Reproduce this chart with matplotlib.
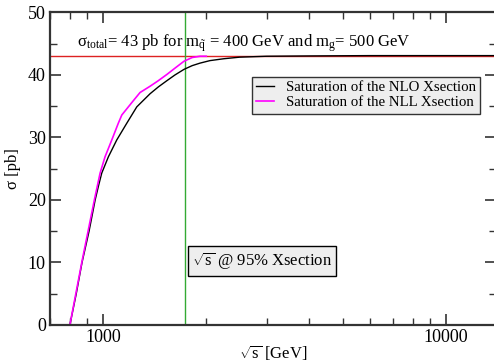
import matplotlib
matplotlib.use("Agg")
import matplotlib.pyplot as plt
from matplotlib.ticker import LogLocator, NullFormatter, MultipleLocator

plt.rcParams['font.family'] = ['Liberation Serif', 'DejaVu Serif']
plt.rcParams['mathtext.fontset'] = 'custom'
plt.rcParams['mathtext.rm'] = 'Liberation Serif'
plt.rcParams['mathtext.it'] = 'Liberation Serif:italic'
plt.rcParams['mathtext.bf'] = 'Liberation Serif:bold'

# NLO saturation curve
nlo_sqrts = [800, 835, 868, 910, 948, 970, 991, 1036, 1096, 1173, 1254, 1371, 1450,
             1536, 1620, 1722, 1820, 1918, 2050, 2250, 2500, 3000, 4000, 6000, 10000, 14000]
nlo_sigma = [0, 5, 10, 15, 20, 22.3, 24.3, 26.9, 29.6, 32.3, 34.9, 37.0, 38.1,
             39.1, 40.0, 40.9, 41.5, 41.9, 42.3, 42.6, 42.85, 43.0, 43.05, 43.1, 43.1, 43.1]

# NLL saturation curve
nll_sqrts = [800, 868, 943, 980, 1013, 1060, 1108, 1134, 1185, 1230, 1282, 1371,
             1450, 1536, 1630, 1722, 1820, 1918, 2000]
nll_sigma = [0, 10.2, 20, 24.3, 26.9, 29.6, 32.3, 33.6, 34.9, 36.0, 37.2, 38.2,
             39.1, 40.1, 41.2, 42.2, 42.8, 43.0, 43.0]

sigma_total = 43
sqrts_95 = 1734

fig = plt.figure(figsize=(4.94, 3.63), dpi=100)
ax = fig.add_axes([0.1012, 0.1047, 0.9028, 0.8609])

ax.axhline(sigma_total, color='#dd2222', lw=1.0)
ax.axvline(sqrts_95, color='#33aa33', lw=1.0)
ax.plot(nlo_sqrts, nlo_sigma, color='black', lw=1.0, label='Saturation of the NLO Xsection')
ax.plot(nll_sqrts, nll_sigma, color='magenta', lw=1.2, label='Saturation of the NLL Xsection')

ax.set_xscale('log')
ax.set_xlim(700, 14000)
ax.set_ylim(0, 50)
ax.set_xticks([1000, 10000])
ax.set_xticklabels(['1000', '10000'])
ax.xaxis.set_minor_locator(LogLocator(base=10, subs=range(2, 10)))
ax.xaxis.set_minor_formatter(NullFormatter())
ax.yaxis.set_major_locator(MultipleLocator(10))
ax.yaxis.set_minor_locator(MultipleLocator(5))

ax.tick_params(which='both', direction='in', top=True, right=True,
               labelsize=13, color='#333333')
ax.tick_params(which='major', length=8, width=1.2, pad=3)
ax.tick_params(which='minor', length=5, width=1.0)
for s in ax.spines.values():
    s.set_linewidth(1.6)
    s.set_color('#333333')

ax.set_xlabel(r'$\sqrt{\rm s}$ [GeV]', fontsize=12, labelpad=-2)
ax.set_ylabel('σ [pb]', fontsize=12, labelpad=5)

ax.text(0.06, 0.89,
        r'σ$_{\rm total}$= 43 pb for m$_{\tilde{\rm q}}$ = 400 GeV and m$_{\rm g}$= 500 GeV',
        transform=ax.transAxes, fontsize=12, va='baseline', ha='left')

ax.text(0.318, 0.205, r'$\sqrt{\rm s}$ @ 95% Xsection', transform=ax.transAxes,
        fontsize=12, va='center', ha='left',
        bbox=dict(boxstyle='square,pad=0.25', fc='#eeeeee', ec='black', lw=1.0))

leg = ax.legend(loc='upper right', bbox_to_anchor=(0.965, 0.795), fontsize=10.7,
                frameon=True, fancybox=False, handlelength=1.2, handletextpad=0.8,
                borderpad=0.3, labelspacing=0.1, borderaxespad=0)
leg.get_frame().set_facecolor('#eeeeee')
leg.get_frame().set_edgecolor('#333333')
leg.get_frame().set_alpha(1)
leg.get_frame().set_linewidth(1.0)

fig.savefig('out.png', dpi=100)
